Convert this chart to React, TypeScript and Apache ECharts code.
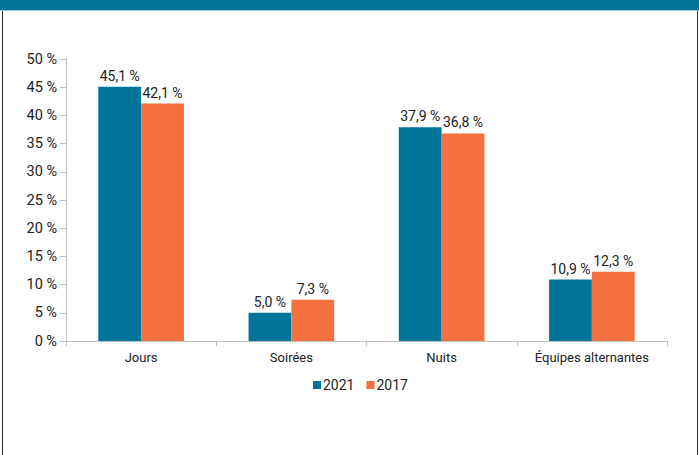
import React, { useEffect, useRef } from "react";
import * as echarts from "echarts";

const categories = ["Jours", "Soirées", "Nuits", "Équipes alternantes"];
const values2021 = [45.1, 5.0, 37.9, 10.9];
const values2017 = [42.1, 7.3, 36.8, 12.3];
const seriesNames = ["2021", "2017"];

const fmt = (v: number) => v.toFixed(1).replace(".", ",") + " %";

export default function App() {
  const ref = useRef<HTMLDivElement>(null);
  useEffect(() => {
    document.body.style.margin = "0";
    const chart = echarts.init(ref.current!, null, { renderer: "svg" });
    const font = "Roboto, 'Liberation Sans', sans-serif";
    chart.setOption({
      animation: false,
      textStyle: { fontFamily: font },
      graphic: [
        { type: "rect", shape: { x: 0, y: 0, width: 699, height: 10 }, style: { fill: "#00759b" } },
        { type: "line", shape: { x1: 0, y1: 10.5, x2: 699, y2: 10.5 }, style: { stroke: "#9cc9d8", lineWidth: 1 } },
        { type: "line", shape: { x1: 2.5, y1: 11, x2: 2.5, y2: 455 }, style: { stroke: "#333", lineWidth: 1 } },
        { type: "line", shape: { x1: 697.5, y1: 11, x2: 697.5, y2: 455 }, style: { stroke: "#333", lineWidth: 1 } },
      ],
      grid: { left: 66, right: 32, top: 59, bottom: 114, containLabel: false },
      legend: {
        data: seriesNames,
        left: 308,
        top: 373,
        icon: "rect",
        itemWidth: 8,
        itemHeight: 8,
        itemGap: 12,
        textStyle: { fontSize: 14, color: "#222", fontFamily: font, padding: [0, 0, 0, -3] },
      },
      xAxis: {
        type: "category",
        data: categories,
        axisLine: { lineStyle: { color: "#bfbfbf" } },
        axisTick: { show: true, length: 5, lineStyle: { color: "#bfbfbf" } },
        axisLabel: { color: "#222", fontSize: 13, margin: 10, fontFamily: font },
      },
      yAxis: {
        type: "value",
        min: 0,
        max: 50,
        interval: 5,
        splitLine: { show: false },
        axisLine: { show: true, lineStyle: { color: "#bfbfbf" } },
        axisTick: { show: true, length: 6, lineStyle: { color: "#bfbfbf" } },
        axisLabel: { color: "#222", fontSize: 14.5, margin: 9, formatter: "{value} %", fontFamily: font },
      },
      series: [
        {
          name: seriesNames[0],
          type: "bar",
          data: values2021,
          itemStyle: { color: "#00759b" },
          barGap: "0%",
          barCategoryGap: "43%",
          label: { show: true, position: "top", color: "#222", fontSize: 14, distance: 4, fontFamily: font, formatter: (p: any) => fmt(p.value) },
        },
        {
          name: seriesNames[1],
          type: "bar",
          data: values2017,
          itemStyle: { color: "#f4703f" },
          barGap: "0%",
          barCategoryGap: "43%",
          label: { show: true, position: "top", color: "#222", fontSize: 14, distance: 4, fontFamily: font, formatter: (p: any) => fmt(p.value) },
        },
      ],
    });
    return () => chart.dispose();
  }, []);
  return <div ref={ref} style={{ position: "absolute", left: 0, top: 0, width: 699, height: 455 }} />;
}
